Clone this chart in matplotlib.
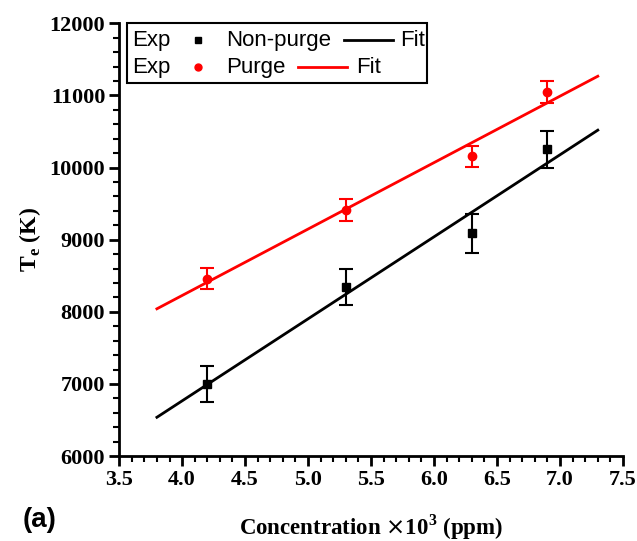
import numpy as np
import matplotlib
matplotlib.use("Agg")
import matplotlib.pyplot as plt
from matplotlib.ticker import MultipleLocator

# concentration (x10^3 ppm)
conc = [4.2, 5.3, 6.3, 6.9]

# electron temperature (K)
te_nonpurge = [7000, 8340, 9090, 10250]
err_nonpurge = [245, 250, 270, 250]
te_purge = [8460, 9410, 10155, 11050]
err_purge = [150, 150, 150, 150]

# fit range
fit_x = [3.8, 7.3]

xticks = [3.5, 4.0, 4.5, 5.0, 5.5, 6.0, 6.5, 7.0, 7.5]
yticks = [6000, 7000, 8000, 9000, 10000, 11000, 12000]

serif = "Liberation Serif"
sans = "Liberation Sans"


def linear_fit(x, y, xr):
    k, b = np.polyfit(x, y, 1)
    xs = np.array(xr)
    return xs, k * xs + b


def draw_legend(ax):
    """Origin-style legend box: Exp <marker> Name <line> Fit"""
    kw = dict(transform=ax.transAxes, fontsize=16, family=sans,
              va="center", ha="left", zorder=6)
    lkw = dict(transform=ax.transAxes, clip_on=False, zorder=6)

    rows = [
        (0.961, "s", "black", "Non-purge", (0.446, 0.544), 0.558),
        (0.898, "o", "red", "Purge", (0.355, 0.452), 0.470),
    ]
    for y, mk, col, name, (l0, l1), fx in rows:
        ax.text(0.026, y, "Exp", **kw)
        ax.plot([0.157], [y], marker=mk, color=col, ms=5, ls="none", **lkw)
        ax.text(0.212, y, name, **kw)
        ax.plot([l0, l1], [y, y], color=col, lw=2, **lkw)
        ax.text(fx, y, "Fit", **kw)

    box = plt.Rectangle((0.016, 0.861), 0.596, 0.139, transform=ax.transAxes,
                        fill=False, ec="black", lw=1.5, clip_on=False, zorder=5)
    ax.add_patch(box)


def main():
    fig = plt.figure(figsize=(6.37, 5.41), dpi=100)
    ax = fig.add_axes([0.187, 0.157, 0.791, 0.8])

    # non-purge
    ax.errorbar(conc, te_nonpurge, yerr=err_nonpurge, fmt="s", color="black",
                ms=5.5, elinewidth=1.5, capsize=5, capthick=1.5, zorder=4)
    xs, ys = linear_fit(conc, te_nonpurge, fit_x)
    ax.plot(xs, ys, color="black", lw=2, zorder=3)

    # purge
    ax.errorbar(conc, te_purge, yerr=err_purge, fmt="o", color="red",
                ms=6, elinewidth=1.5, capsize=5, capthick=1.5, zorder=4)
    xs, ys = linear_fit(conc, te_purge, fit_x)
    ax.plot(xs, ys, color="red", lw=2, zorder=3)

    ax.set_xlim(3.5, 7.5)
    ax.set_ylim(6000, 12000)
    ax.set_xticks(xticks)
    ax.set_yticks(yticks)
    ax.set_xticklabels([f"{t:.1f}" for t in xticks])
    ax.set_yticklabels([str(t) for t in yticks])
    ax.xaxis.set_minor_locator(MultipleLocator(0.1))
    ax.yaxis.set_minor_locator(MultipleLocator(200))

    for s in ["top", "right"]:
        ax.spines[s].set_visible(False)
    for s in ["left", "bottom"]:
        ax.spines[s].set_linewidth(2)

    ax.tick_params(which="major", direction="out", length=7, width=2, pad=3)
    ax.tick_params(which="minor", direction="out", length=4, width=1.5)
    for lab in ax.get_xticklabels() + ax.get_yticklabels():
        lab.set_family(serif)
        lab.set_weight("bold")
        lab.set_fontsize(16)

    ax.set_xlabel(r"Concentration $\times$10$^{\mathregular{3}}$ (ppm)",
                  family=serif, weight="bold", fontsize=16.5, labelpad=16)
    ax.set_ylabel(r"T$_{\mathregular{e}}$ (K)", family=serif, weight="bold",
                  fontsize=17, labelpad=5)

    fig.text(0.036, 0.014, "(a)", family=sans, weight="bold", fontsize=20,
             va="bottom")

    draw_legend(ax)

    fig.savefig("out.png", dpi=100)


if __name__ == "__main__":
    main()
